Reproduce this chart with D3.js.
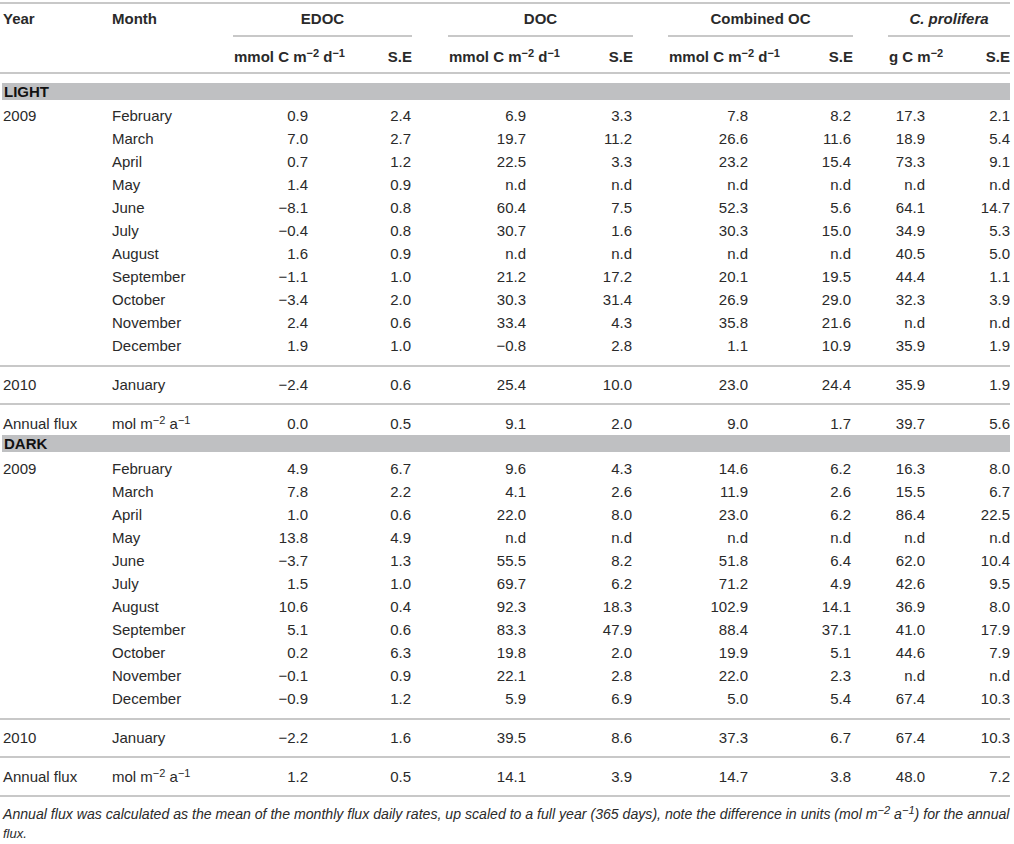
<!DOCTYPE html>
<html>
<head>
<meta charset="utf-8">
<script src="https://cdn.jsdelivr.net/npm/d3@7"></script>
<style>
  body { margin: 0; background: #fff; }
  svg text { font-family: "Liberation Sans", Arial, sans-serif; fill: #2a2a2a; }
</style>
</head>
<body>
<div id="my_table"></div>
<script>
// row labels
const months = ["February", "March", "April", "May", "June", "July", "August",
                "September", "October", "November", "December"];
const years = ["2009", "2010"];

// column keys (value + S.E per group)
const colKeys = ["edoc", "edocSE", "doc", "docSE", "comb", "combSE", "cpro", "cproSE"];

// LIGHT: Feb..Dec 2009, Jan 2010, Annual flux   (null = n.d)
const lightEdoc   = [0.9, 7.0, 0.7, 1.4, -8.1, -0.4, 1.6, -1.1, -3.4, 2.4, 1.9, -2.4, 0.0];
const lightEdocSE = [2.4, 2.7, 1.2, 0.9, 0.8, 0.8, 0.9, 1.0, 2.0, 0.6, 1.0, 0.6, 0.5];
const lightDoc    = [6.9, 19.7, 22.5, null, 60.4, 30.7, null, 21.2, 30.3, 33.4, -0.8, 25.4, 9.1];
const lightDocSE  = [3.3, 11.2, 3.3, null, 7.5, 1.6, null, 17.2, 31.4, 4.3, 2.8, 10.0, 2.0];
const lightComb   = [7.8, 26.6, 23.2, null, 52.3, 30.3, null, 20.1, 26.9, 35.8, 1.1, 23.0, 9.0];
const lightCombSE = [8.2, 11.6, 15.4, null, 5.6, 15.0, null, 19.5, 29.0, 21.6, 10.9, 24.4, 1.7];
const lightCpro   = [17.3, 18.9, 73.3, null, 64.1, 34.9, 40.5, 44.4, 32.3, null, 35.9, 35.9, 39.7];
const lightCproSE = [2.1, 5.4, 9.1, null, 14.7, 5.3, 5.0, 1.1, 3.9, null, 1.9, 1.9, 5.6];

// DARK
const darkEdoc   = [4.9, 7.8, 1.0, 13.8, -3.7, 1.5, 10.6, 5.1, 0.2, -0.1, -0.9, -2.2, 1.2];
const darkEdocSE = [6.7, 2.2, 0.6, 4.9, 1.3, 1.0, 0.4, 0.6, 6.3, 0.9, 1.2, 1.6, 0.5];
const darkDoc    = [9.6, 4.1, 22.0, null, 55.5, 69.7, 92.3, 83.3, 19.8, 22.1, 5.9, 39.5, 14.1];
const darkDocSE  = [4.3, 2.6, 8.0, null, 8.2, 6.2, 18.3, 47.9, 2.0, 2.8, 6.9, 8.6, 3.9];
const darkComb   = [14.6, 11.9, 23.0, null, 51.8, 71.2, 102.9, 88.4, 19.9, 22.0, 5.0, 37.3, 14.7];
const darkCombSE = [6.2, 2.6, 6.2, null, 6.4, 4.9, 14.1, 37.1, 5.1, 2.3, 5.4, 6.7, 3.8];
const darkCpro   = [16.3, 15.5, 86.4, null, 62.0, 42.6, 36.9, 41.0, 44.6, null, 67.4, 67.4, 48.0];
const darkCproSE = [8.0, 6.7, 22.5, null, 10.4, 9.5, 8.0, 17.9, 7.9, null, 10.3, 10.3, 7.2];

const footnote = [
  [["Annual flux was calculated as the mean of the monthly flux daily rates, up scaled to a full year (365 days), note the difference in units (mol m"], ["−2", 1], [" a"], ["−1", 1], [") for the annual"]],
  [["flux."]]
];

const table = {
  specs : { width: 1014, height: 844, ruleColor: "#c8c8c8", bandColor: "#bfc0c2", fs: 15, sup: 11 },
  svg : null,
  initialize : () => {
    const {width, height} = table.specs;
    table.svg = d3.select("#my_table").append("svg")
      .attr("width", width).attr("height", height);
    table.draw();
  },
  // writes text pieces, [str, isSup]
  rich : (sel, parts, supSize) => {
    let wasSup = false;
    parts.forEach(([s, sup]) => {
      const t = sel.append("tspan").text(s);
      if (sup) t.attr("dy", wasSup ? 0 : -5).attr("class", "sup").style("font-size", supSize + "px");
      else if (wasSup) t.attr("dy", 5);
      wasSup = !!sup;
    });
  },
  draw : () => {
    const svg = table.svg;
    const {ruleColor, bandColor, fs, sup} = table.specs;
    const fmt = d3.format(".1f");

    const x = d3.scaleOrdinal().domain(colKeys)
      .range([308, 411, 526, 632, 748, 851, 925, 1010]);
    const groups = [
      {name: "EDOC", x0: 233, x1: 412, unit: [["mmol C m"], ["−2", 1], [" d"], ["−1", 1]]},
      {name: "DOC", x0: 448, x1: 633, unit: [["mmol C m"], ["−2", 1], [" d"], ["−1", 1]]},
      {name: "Combined OC", x0: 668, x1: 853, unit: [["mmol C m"], ["−2", 1], [" d"], ["−1", 1]]},
      {name: "C. prolifera", x0: 888, x1: 1010, unit: [["g C m"], ["−2", 1]], italic: true}
    ];

    const rule = (y, x0 = 0, x1 = 1010) => svg.append("line")
      .attr("x1", x0).attr("x2", x1).attr("y1", y).attr("y2", y)
      .attr("stroke", ruleColor).attr("stroke-width", 2);

    const txt = (xx, y, s, anchor = "start") => svg.append("text")
      .attr("x", xx).attr("y", y).attr("dominant-baseline", "central")
      .attr("text-anchor", anchor).style("font-size", fs + "px").text(s);

    // header
    rule(3);
    txt(3, 18, "Year").style("font-weight", "bold");
    txt(112, 18, "Month").style("font-weight", "bold");
    groups.forEach(g => {
      txt((g.x0 + g.x1) / 2, 18, g.name, "middle").style("font-weight", "bold")
        .style("font-style", g.italic ? "italic" : null);
      rule(36, g.x0, g.x1);
      const u = svg.append("text").attr("x", g.x0 + 1).attr("y", 62)
        .style("font-size", fs + "px").style("font-weight", "bold");
      table.rich(u, g.unit, sup);
      svg.append("text").attr("x", g.x1).attr("y", 62).attr("text-anchor", "end")
        .style("font-size", fs + "px").style("font-weight", "bold").text("S.E");
    });
    rule(73);

    const sections = [
      {label: "LIGHT", bandTop: 83, first: 115,
       cols: [lightEdoc, lightEdocSE, lightDoc, lightDocSE, lightComb, lightCombSE, lightCpro, lightCproSE]},
      {label: "DARK", bandTop: 435, first: 468,
       cols: [darkEdoc, darkEdocSE, darkDoc, darkDocSE, darkComb, darkCombSE, darkCpro, darkCproSE]}
    ];

    sections.forEach(sec => {
      svg.append("rect").attr("x", 2).attr("y", sec.bandTop)
        .attr("width", 1008).attr("height", 17).attr("fill", bandColor);
      txt(4, sec.bandTop + 8.5, sec.label).style("font-weight", "bold").style("fill", "#111");

      const y = d3.scaleLinear().domain([0, months.length - 1])
        .range([sec.first, sec.first + 23 * (months.length - 1)]);
      const yDec = y(months.length - 1);
      const rows = months.map((m, i) => ({year: i === 0 ? years[0] : "", month: [[m]], y: y(i), i}));
      rows.push({year: years[1], month: [["January"]], y: yDec + 39, i: months.length});
      rows.push({year: "Annual flux", month: [["mol m"], ["−2", 1], [" a"], ["−1", 1]], y: yDec + 78, i: months.length + 1});

      rule(yDec + 21);
      rule(yDec + 59);

      const g = svg.append("g");
      const row = g.selectAll("g.row").data(rows).join("g").attr("class", "row");
      row.append("text").attr("x", 3).attr("y", d => d.y).attr("dominant-baseline", "central")
        .style("font-size", fs + "px").text(d => d.year);
      row.append("text").attr("x", 112).attr("y", d => d.y + 5.5)
        .style("font-size", fs + "px")
        .each(function(d) { table.rich(d3.select(this), d.month, sup); });

      colKeys.forEach((k, ci) => {
        g.selectAll("text.v" + k).data(rows).join("text")
          .attr("class", "v" + k)
          .attr("x", x(k)).attr("y", d => d.y).attr("dominant-baseline", "central")
          .attr("text-anchor", "end").style("font-size", fs + "px")
          .text(d => { const v = sec.cols[ci][d.i]; return v === null ? "n.d" : fmt(v); });
      });
    });
    rule(796);

    // footnote
    footnote.forEach((parts, li) => {
      const t = svg.append("text").attr("x", 3).attr("y", 819 + li * 19)
        .style("font-size", "13px").style("font-style", "italic");
      table.rich(t, parts, 10);
      if (li === 0) {
        const w = t.node().getComputedTextLength();
        const s = 13 * 1007 / w;
        t.style("font-size", s + "px");
        t.selectAll("tspan.sup").style("font-size", (s - 3) + "px");
      }
    });
  }
};

document.addEventListener("DOMContentLoaded", table.initialize());
</script>
</body>
</html>
